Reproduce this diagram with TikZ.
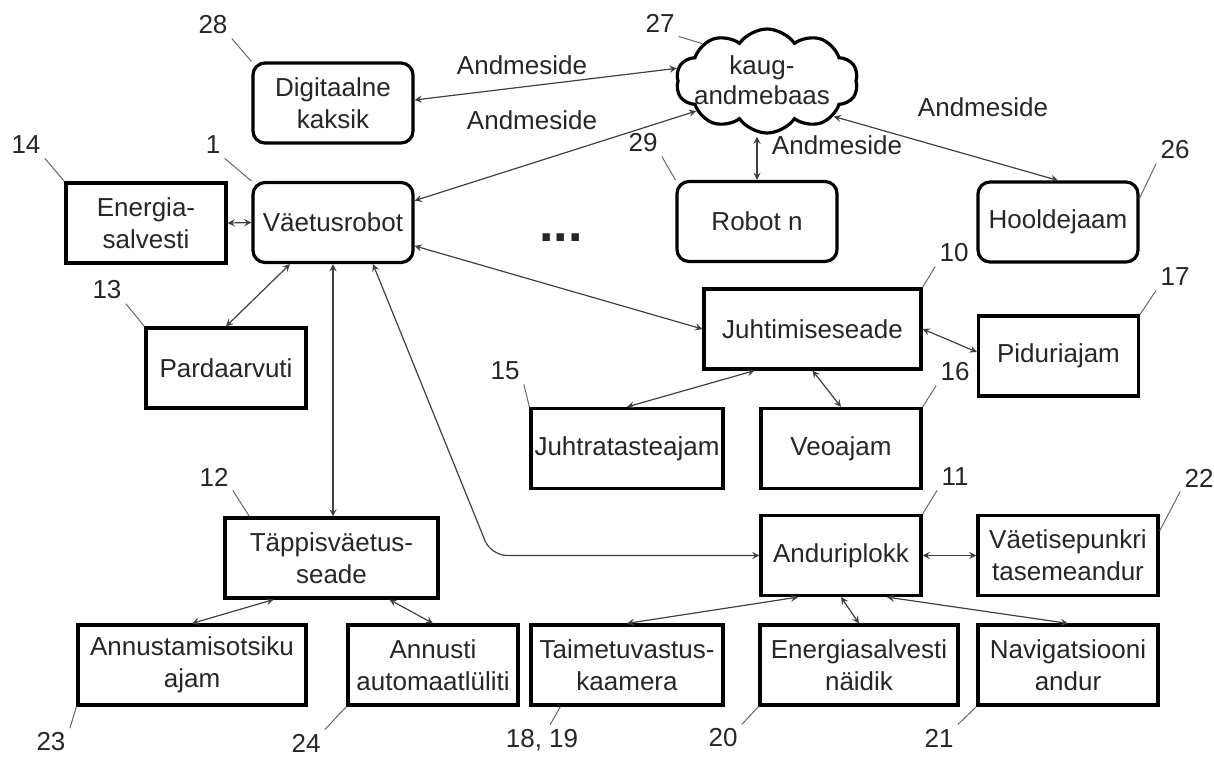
\documentclass[tikz,border=0pt]{standalone}
\usepackage{fontspec}
\setmainfont{Liberation Sans}
\usepackage{tikz}
\usetikzlibrary{positioning,shapes,arrows}

\begin{document}
\begin{tikzpicture}[x=0.5pt, y=-0.5pt,
			every node/.style = {font=\fontsize{13}{16}\selectfont, text=black!85},
			blokk/.style = {draw, line width=1.6pt, align=center,
				minimum width=80pt, minimum height=40pt, inner sep=1pt},
			ublokk/.style = {blokk, rounded corners=6pt},
			nr/.style = {inner sep=2pt},
			link/.style = {<->, >=stealth, line width=0.6pt, draw=black!75},
			juhe/.style = {line width=0.5pt, draw=black!60}]
			\useasboundingbox (0,0) rectangle (1214,757);
			
			\node[ublokk] (digi) at (333,103) {Digitaalne\\kaksik};
			\node[ublokk] (robot) at (333,222.5) {Väetusrobot};
			\node[blokk] (energia) at (146,223) {Energia-\\salvesti};
			\node[cloud, cloud puffs=10, cloud puff arc=110, cloud ignores aspect, draw,
				line width=1.6pt, minimum width=91pt, minimum height=52pt] (pilv) at (767,81) {};
			\node[align=center, font=\fontsize{13}{15}\selectfont] (pilvtekst) at (762,80) {kaug-\\andmebaas};
			\node[ublokk] (robotn) at (757,221.5) {Robot n};
			\node[ublokk] (hoolde) at (1058,222) {Hooldejaam};
			\node[blokk] (pardaar) at (226,368) {Pardaarvuti};
			\node[blokk, minimum width=108.5pt] (juhtimine) at (812.5,329) {Juhtimiseseade};
			\node[blokk] (pidur) at (1058.5,356) {Piduriajam};
			\node[blokk, minimum width=96pt] (juhtrat) at (627,448.5) {Juhtratasteajam};
			\node[blokk] (veo) at (841,448.5) {Veoajam};
			\node[blokk, minimum width=106.5pt] (tapp) at (331.5,558) {Täppisväetus-\\seade};
			\node[blokk] (andur) at (841,555.5) {Anduriplokk};
			\node[blokk, minimum width=90pt] (punker) at (1068,555.5) {Väetisepunkri\\tasemeandur};
			\node[blokk, minimum width=114pt] (otsik) at (192,665) {Annustamisotsiku\\ajam};
			\node[blokk, minimum width=85pt] (lyliti) at (433,665) {Annusti\\automaatlüliti};
			\node[blokk, minimum width=96pt] (kaamera) at (627,665) {Taimetuvastus-\\kaamera};
			\node[blokk, minimum width=99pt] (naidik) at (859,665) {Energiasalvesti\\näidik};
			\node[blokk, minimum width=90pt] (navi) at (1068,665) {Navigatsiooni\\andur};
			
			\node[font=\fontsize{26}{26}\selectfont\bfseries] (punktid) at (561,238) {...};
			
			\node (am1) at (522,65) {Andmeside};
			\node (am2) at (532,120) {Andmeside};
			\node (am3) at (983,107) {Andmeside};
			\node (am4) at (837,145) {Andmeside};
			
			\coordinate[below=1pt of pilv.south] (pilvalt);
			\draw[link] ([yshift=1.5pt]digi.east) -- (pilv.172);
			\draw[link] (robot.15) -- (pilv.203);
			\draw[link] (robotn.north) -- (robotn.north |- pilvalt);
			\draw[link] (hoolde.north) -- (pilv.-28);
			\draw[link] (energia.east) -- (robot.west);
			\draw[link] ([xshift=-21.5pt]robot.south) -- (pardaar.north);
			\draw[link] (robot.south) -- (robot.south |- tapp.north);
			\coordinate (knikk) at (491,555.5);
			\draw[link, rounded corners=8pt] ([xshift=20pt]robot.south) -- (knikk) -- (andur.west);
			\draw[link] (robot.-16) -- (juhtimine.west);
			\draw[link] (juhtimine.east) -- ([yshift=2pt]pidur.west);
			\draw[link] ([xshift=-29pt]juhtimine.south) -- (juhtrat.north);
			\draw[link] (juhtimine.south) -- (veo.north);
			\draw[link] ([xshift=-29pt]tapp.south) -- (otsik.north);
			\draw[link] ([xshift=29pt]tapp.south) -- (lyliti.north);
			\draw[link] (andur.east) -- (punker.west);
			\draw[link] ([xshift=-21.5pt]andur.south) -- (kaamera.north);
			\draw[link] (andur.south) -- (naidik.north);
			\draw[link] ([xshift=23pt]andur.south) -- (navi.north);
			
			\node[nr] (n28) at (213,25) {28};
			\node[nr] (n27) at (660,23) {27};
			\node[nr] (n1) at (213,145) {1};
			\node[nr] (n14) at (26,145) {14};
			\node[nr] (n29) at (643,143) {29};
			\node[nr] (n26) at (1175,150) {26};
			\node[nr] (n13) at (107,290) {13};
			\node[nr] (n10) at (954,253) {10};
			\node[nr] (n17) at (1175,277) {17};
			\node[nr] (n15) at (505,371) {15};
			\node[nr] (n16) at (955,372) {16};
			\node[nr] (n12) at (214,477) {12};
			\node[nr] (n11) at (955,477) {11};
			\node[nr] (n22) at (1199,478) {22};
			\node[nr] (n23) at (51,742) {23};
			\node[nr] (n24) at (306,743) {24};
			\node[nr] (n1819) at (542,740) {18, 19};
			\node[nr] (n20) at (723,738) {20};
			\node[nr] (n21) at (939,738) {21};
			
			\draw[juhe] (n28.south east) -- (digi.north west);
			\draw[juhe] (n27.south east) -- (pilv.150);
			\draw[juhe] (n1.south east) -- (robot.north west);
			\draw[juhe] (n14.south east) -- (energia.north west);
			\draw[juhe] (n29.south east) -- (robotn.north west);
			\draw[juhe] (n26.south west) -- ([yshift=12pt]hoolde.east);
			\draw[juhe] (n13.south east) -- (pardaar.north west);
			\draw[juhe] (n10.south west) -- (juhtimine.north east);
			\draw[juhe] (n17.south west) -- (pidur.north east);
			\draw[juhe] (n15.south east) -- (juhtrat.north west);
			\draw[juhe] (n16.south west) -- (veo.north east);
			\draw[juhe] (n12.south east) -- ([xshift=13pt]tapp.north west);
			\draw[juhe] (n11.south west) -- (andur.north east);
			\draw[juhe] (n22.south west) -- ([yshift=-8.5pt]punker.north east);
			\draw[juhe] (n23.north east) -- (otsik.south west);
			\draw[juhe] (n24.north east) -- (lyliti.south west);
			\draw[juhe] ([xshift=4pt]n1819.north) -- ([xshift=15.5pt]kaamera.south west);
			\draw[juhe] (n20.north east) -- (naidik.south west);
			\draw[juhe] (n21.north east) -- (navi.south west);
\end{tikzpicture}
\end{document}
